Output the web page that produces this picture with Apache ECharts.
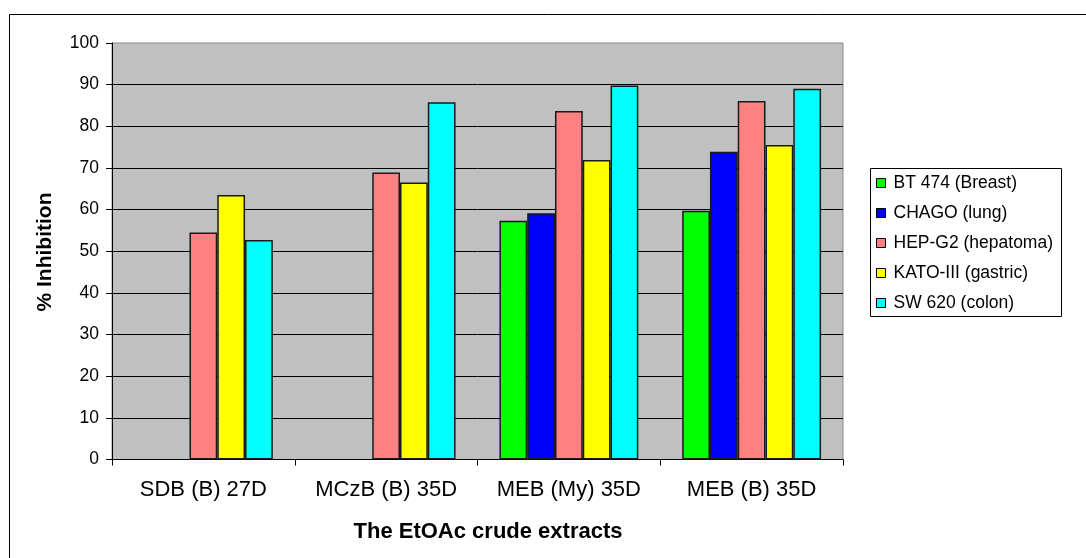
<!DOCTYPE html>
<html>
<head>
<meta charset="utf-8">
<script src="https://cdn.jsdelivr.net/npm/echarts@6/dist/echarts.min.js"></script>
<style>
html,body{margin:0;padding:0;background:#fff;}
#chart{width:1086px;height:558px;}
</style>
</head>
<body>
<div id="chart"></div>
<script>
var categories = ['SDB (B) 27D', 'MCzB (B) 35D', 'MEB (My) 35D', 'MEB (B) 35D'];
var seriesNames = ['BT 474 (Breast)', 'CHAGO (lung)', 'HEP-G2 (hepatoma)', 'KATO-III (gastric)', 'SW 620 (colon)'];
var bt474 = [null, null, 57.3, 59.7];
var chago = [null, null, 59.1, 73.9];
var hepg2 = [54.5, 68.9, 83.7, 86.1];
var kato = [63.5, 66.5, 71.9, 75.5];
var sw620 = [52.7, 85.8, 89.8, 89.0];
var colors = ['#00FF00', '#0000FF', '#FF8080', '#FFFF00', '#00FFFF'];
var yTicks = [0, 10, 20, 30, 40, 50, 60, 70, 80, 90, 100];

var allData = [bt474, chago, hepg2, kato, sw620];
var FONT = '"Liberation Sans", Arial, sans-serif';

var chart = echarts.init(document.getElementById('chart'), null, {renderer: 'canvas'});
var series = seriesNames.map(function (n, i) {
  return {
    name: n,
    type: 'bar',
    data: allData[i],
    barGap: '0%',
    barCategoryGap: '24%',
    itemStyle: {color: colors[i], borderColor: '#1a1a1a', borderWidth: 1.5},
    emphasis: {disabled: true}
  };
});

chart.setOption({
  animation: false,
  backgroundColor: '#fff',
  textStyle: {fontFamily: FONT},
  grid: {
    left: 112, top: 43, right: 243, bottom: 98.5,
    show: true, backgroundColor: '#C0C0C0', borderColor: '#8a8a8a', borderWidth: 1
  },
  legend: {
    orient: 'vertical',
    left: 870, top: 168,
    padding: [6, 6, 6, 6],
    itemWidth: 9, itemHeight: 9,
    itemGap: 12,
    icon: 'rect',
    data: seriesNames.map(function (n, i) {
      return {name: n, itemStyle: {color: colors[i], borderColor: '#000', borderWidth: 1}};
    }),
    textStyle: {fontFamily: FONT, fontSize: 17.5, color: '#000', lineHeight: 17, padding: [0, 0, 0, 3]}
  },
  xAxis: {
    type: 'category',
    data: categories,
    axisLine: {lineStyle: {color: '#000', width: 1}},
    axisTick: {show: true, interval: 0, length: 6, lineStyle: {color: '#000'}},
    axisLabel: {interval: 0, fontFamily: FONT, fontSize: 22, color: '#000', margin: 19},
    splitLine: {show: false}
  },
  yAxis: {
    type: 'value',
    min: yTicks[0], max: yTicks[yTicks.length - 1], interval: yTicks[1] - yTicks[0],
    axisLine: {show: true, lineStyle: {color: '#000', width: 1}},
    axisTick: {show: true, length: 6, lineStyle: {color: '#000'}},
    axisLabel: {fontFamily: FONT, fontSize: 17.5, color: '#000', margin: 13},
    splitLine: {show: true, showMaxLine: false, lineStyle: {color: '#000', width: 1}}
  },
  series: series,
  graphic: [
    {type: 'rect', shape: {x: 9.5, y: 14.5, width: 1200, height: 700}, style: {fill: null, stroke: '#000', lineWidth: 1}, z: -10, silent: true},
    {type: 'rect', shape: {x: 870.5, y: 168.5, width: 191, height: 148}, style: {fill: '#fff', stroke: '#000', lineWidth: 1}, z: -1, silent: true},
    {type: 'text', x: 488, y: 532, style: {text: 'The EtOAc crude extracts', font: 'bold 22px ' + FONT, fill: '#000', textAlign: 'center', textVerticalAlign: 'middle'}},
    {type: 'text', x: 45, y: 252, rotation: Math.PI / 2, style: {text: '% Inhibition', font: 'bold 21px ' + FONT, fill: '#000', textAlign: 'center', textVerticalAlign: 'middle'}}
  ]
});
</script>
</body>
</html>
